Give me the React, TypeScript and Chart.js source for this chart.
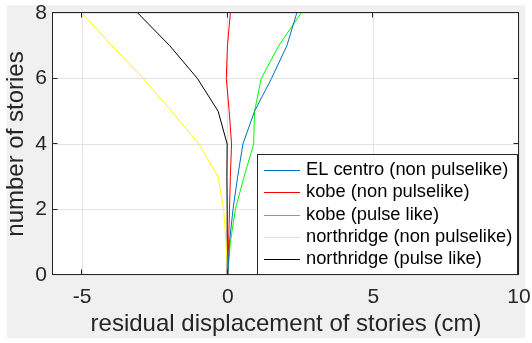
import React, { useEffect, useRef } from "react";
import { Chart, registerables } from "chart.js";

Chart.register(...registerables);

// ---- data ----
const stories = [0, 1, 2, 3, 4, 5, 6, 7, 8];
const elCentroNon = [0, 0.06, 0.18, 0.34, 0.52, 0.92, 1.5, 2.03, 2.37];
const kobeNon = [0, 0.03, 0.06, 0.09, 0.13, 0.05, -0.05, -0.01, 0.09];
const kobePulse = [0, 0.09, 0.26, 0.56, 0.89, 0.92, 1.15, 1.75, 2.52];
const northridgeNon = [0, -0.06, -0.14, -0.33, -0.99, -1.93, -2.9, -3.98, -5];
const northridgePulse = [0, -0.02, -0.02, -0.03, -0.02, -0.33, -1.04, -1.99, -3.09];

const seriesLabels = [
  "EL centro (non pulselike)",
  "kobe (non pulselike)",
  "kobe (pulse like)",
  "northridge (non pulselike)",
  "northridge (pulse like)",
];
const seriesValues = [elCentroNon, kobeNon, kobePulse, northridgeNon, northridgePulse];
const seriesColors = ["#0072bd", "#ff0000", "#00ff00", "#ffff00", "#000000"];

const xTicks = [-5, 0, 5, 10];
const yTicks = [0, 2, 4, 6, 8];
const xRange = [-6, 10];
const yRange = [0, 8];
const xTitle = "residual displacement of stories (cm)";
const yTitle = "number of stories";

const FONT = "'Liberation Sans', Arial, Helvetica, sans-serif";
const TEXT = "#262626";

export default function App() {
  const ref = useRef<HTMLCanvasElement>(null);

  useEffect(() => {
    const canvas = ref.current;
    if (!canvas) return;

    const bgPlugin = {
      id: "bg",
      beforeDraw(chart: any) {
        const ctx = chart.ctx;
        const a = chart.chartArea;
        ctx.save();
        ctx.fillStyle = "#ffffff";
        ctx.fillRect(0, 0, chart.width, chart.height);
        ctx.fillStyle = "#f0f0f0";
        ctx.fillRect(7, 5, 518, 333);
        ctx.fillStyle = "#ffffff";
        ctx.fillRect(a.left, a.top, a.right - a.left, a.bottom - a.top);
        ctx.restore();
      },
    };

    const framePlugin = {
      id: "frame",
      afterDraw(chart: any) {
        const ctx = chart.ctx;
        const a = chart.chartArea;
        const xs = chart.scales.x;
        const ys = chart.scales.y;
        ctx.save();
        ctx.strokeStyle = TEXT;
        ctx.lineWidth = 1;
        const L = Math.round(a.left) - 0.5;
        const R = Math.round(a.right) - 0.5;
        const T = Math.round(a.top) - 0.5;
        const B = Math.round(a.bottom) - 0.5;
        ctx.strokeRect(L, T, R - L, B - T);
        const tl = 5;
        ctx.beginPath();
        xTicks.forEach((v) => {
          const px = Math.round(xs.getPixelForValue(v)) - 0.5;
          ctx.moveTo(px, B);
          ctx.lineTo(px, B - tl);
          ctx.moveTo(px, T);
          ctx.lineTo(px, T + tl);
        });
        yTicks.forEach((v) => {
          const py = Math.round(ys.getPixelForValue(v)) - 0.5;
          ctx.moveTo(L, py);
          ctx.lineTo(L + tl, py);
          ctx.moveTo(R, py);
          ctx.lineTo(R - tl, py);
        });
        ctx.stroke();

        // legend
        const ds = chart.data.datasets;
        const fontSize = 18.3;
        ctx.font = `${fontSize}px ${FONT}`;
        let maxW = 0;
        ds.forEach((d: any) => {
          maxW = Math.max(maxW, ctx.measureText(d.label).width);
        });
        const rowH = 22.3;
        const boxW = Math.round(49 + maxW + 5);
        const boxH = Math.round(16 + (ds.length - 1) * rowH + 15);
        const bx = Math.round(a.right) - 2 - boxW;
        const by = Math.round(a.bottom) - 1 - boxH;
        ctx.fillStyle = "#ffffff";
        ctx.fillRect(bx, by, boxW, boxH);
        ctx.strokeStyle = "#262626";
        ctx.strokeRect(bx + 0.5, by + 0.5, boxW, boxH);
        ds.forEach((d: any, i: number) => {
          const cy = by + 16 + i * rowH;
          ctx.strokeStyle = d.borderColor;
          ctx.lineWidth = 1;
          ctx.beginPath();
          ctx.moveTo(bx + 7, Math.round(cy) + 0.5);
          ctx.lineTo(bx + 43, Math.round(cy) + 0.5);
          ctx.stroke();
          ctx.fillStyle = "#000000";
          ctx.textAlign = "left";
          ctx.textBaseline = "middle";
          ctx.fillText(d.label, bx + 49, cy);
        });
        ctx.restore();
      },
    };

    const chart = new Chart(canvas, {
      type: "scatter",
      data: {
        datasets: seriesValues.map((vals, i) => ({
          label: seriesLabels[i],
          data: vals.map((x, j) => ({ x, y: stories[j] })),
          showLine: true,
          borderColor: seriesColors[i],
          backgroundColor: seriesColors[i],
          borderWidth: 1,
          pointRadius: 0,
          pointHoverRadius: 0,
          tension: 0,
        })),
      },
      options: {
        animation: false,
        responsive: false,
        devicePixelRatio: 1,
        events: [],
        layout: { padding: { left: 0, top: 13, right: 13, bottom: 0 } },
        plugins: {
          legend: { display: false },
          tooltip: { enabled: false },
          title: { display: false },
        },
        scales: {
          x: {
            type: "linear",
            min: xRange[0],
            max: xRange[1],
            afterFit(scale: any) {
              scale.height = 68;
              scale.paddingLeft = 0;
              scale.paddingRight = 0;
              scale.paddingTop = 0;
              scale.paddingBottom = 0;
            },
            afterBuildTicks(scale: any) {
              scale.ticks = xTicks.map((v) => ({ value: v }));
            },
            grid: { color: "#e3e3e3", drawTicks: false, lineWidth: 1 },
            border: { display: false },
            ticks: {
              color: TEXT,
              padding: 10,
              font: { family: FONT, size: 21 },
              maxRotation: 0,
              autoSkip: false,
            },
            title: {
              display: true,
              text: xTitle,
              color: TEXT,
              font: { family: FONT, size: 24 },
              padding: { top: 0, bottom: 4 },
            },
          },
          y: {
            type: "linear",
            min: yRange[0],
            max: yRange[1],
            afterFit(scale: any) {
              scale.width = 53;
              scale.paddingLeft = 0;
              scale.paddingRight = 0;
              scale.paddingTop = 0;
              scale.paddingBottom = 0;
            },
            afterBuildTicks(scale: any) {
              scale.ticks = yTicks.map((v) => ({ value: v }));
            },
            grid: { color: "#e3e3e3", drawTicks: false, lineWidth: 1 },
            border: { display: false },
            ticks: {
              color: TEXT,
              padding: 6,
              font: { family: FONT, size: 21 },
              autoSkip: false,
            },
            title: {
              display: true,
              text: yTitle,
              color: TEXT,
              font: { family: FONT, size: 24 },
              padding: { top: 2, bottom: 0 },
            },
          },
        },
      },
      plugins: [bgPlugin, framePlugin],
    } as any);

    return () => chart.destroy();
  }, []);

  return (
    <div style={{ position: "fixed", left: 0, top: 0, width: 532, height: 343, background: "#fff" }}>
      <canvas ref={ref} width={532} height={343} style={{ display: "block", width: 532, height: 343 }} />
    </div>
  );
}
